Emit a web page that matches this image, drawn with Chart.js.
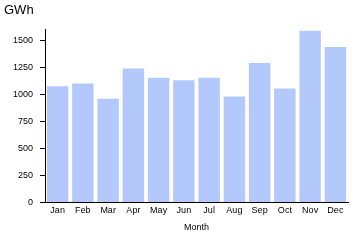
<!DOCTYPE html>
<html>
<head>
<meta charset="utf-8">
<script src="https://cdn.jsdelivr.net/npm/chart.js@4"></script>
<style>
  html, body { margin: 0; padding: 0; background: #fff; }
  #wrap { width: 360px; height: 240px; }
</style>
</head>
<body>
<div id="wrap"><canvas id="chart" width="360" height="240"></canvas></div>
<script>
const months = ['Jan', 'Feb', 'Mar', 'Apr', 'May', 'Jun', 'Jul', 'Aug', 'Sep', 'Oct', 'Nov', 'Dec'];
const energyGWh = [1075, 1100, 960, 1240, 1155, 1130, 1155, 980, 1290, 1055, 1590, 1440];
const yTicks = [0, 250, 500, 750, 1000, 1250, 1500];

Chart.defaults.font.family = '"Liberation Sans", Arial, sans-serif';
Chart.defaults.color = '#000';

new Chart(document.getElementById('chart').getContext('2d'), {
  type: 'bar',
  data: {
    labels: months,
    datasets: [{
      label: 'GWh',
      data: energyGWh,
      backgroundColor: '#b3c9fb',
      barPercentage: 0.85,
      categoryPercentage: 1.0
    }]
  },
  options: {
    responsive: false,
    animation: false,
    layout: { padding: { left: 4, right: 12, top: 0, bottom: 0 } },
    plugins: {
      legend: { display: false },
      tooltip: { enabled: false },
      title: {
        display: true,
        text: 'GWh',
        align: 'start',
        font: { size: 13, weight: 'normal' },
        padding: { top: 3, bottom: 11 }
      }
    },
    scales: {
      x: {
        grid: { display: false, drawTicks: false },
        border: { color: '#000', width: 1 },
        ticks: { font: { size: 9 }, padding: 3 },
        title: { display: true, text: 'Month', font: { size: 9 }, padding: { top: 3, bottom: 7 } }
      },
      y: {
        min: 0,
        max: 1600,
        afterBuildTicks: axis => { axis.ticks = yTicks.map(v => ({ value: v })); },
        afterFit: axis => { axis.width = 41; },
        grid: { drawOnChartArea: false, drawTicks: true, tickLength: 5, color: '#000' },
        border: { color: '#000', width: 1 },
        ticks: { font: { size: 9 }, padding: 7, callback: v => String(v) }
      }
    }
  }
});
</script>
</body>
</html>
